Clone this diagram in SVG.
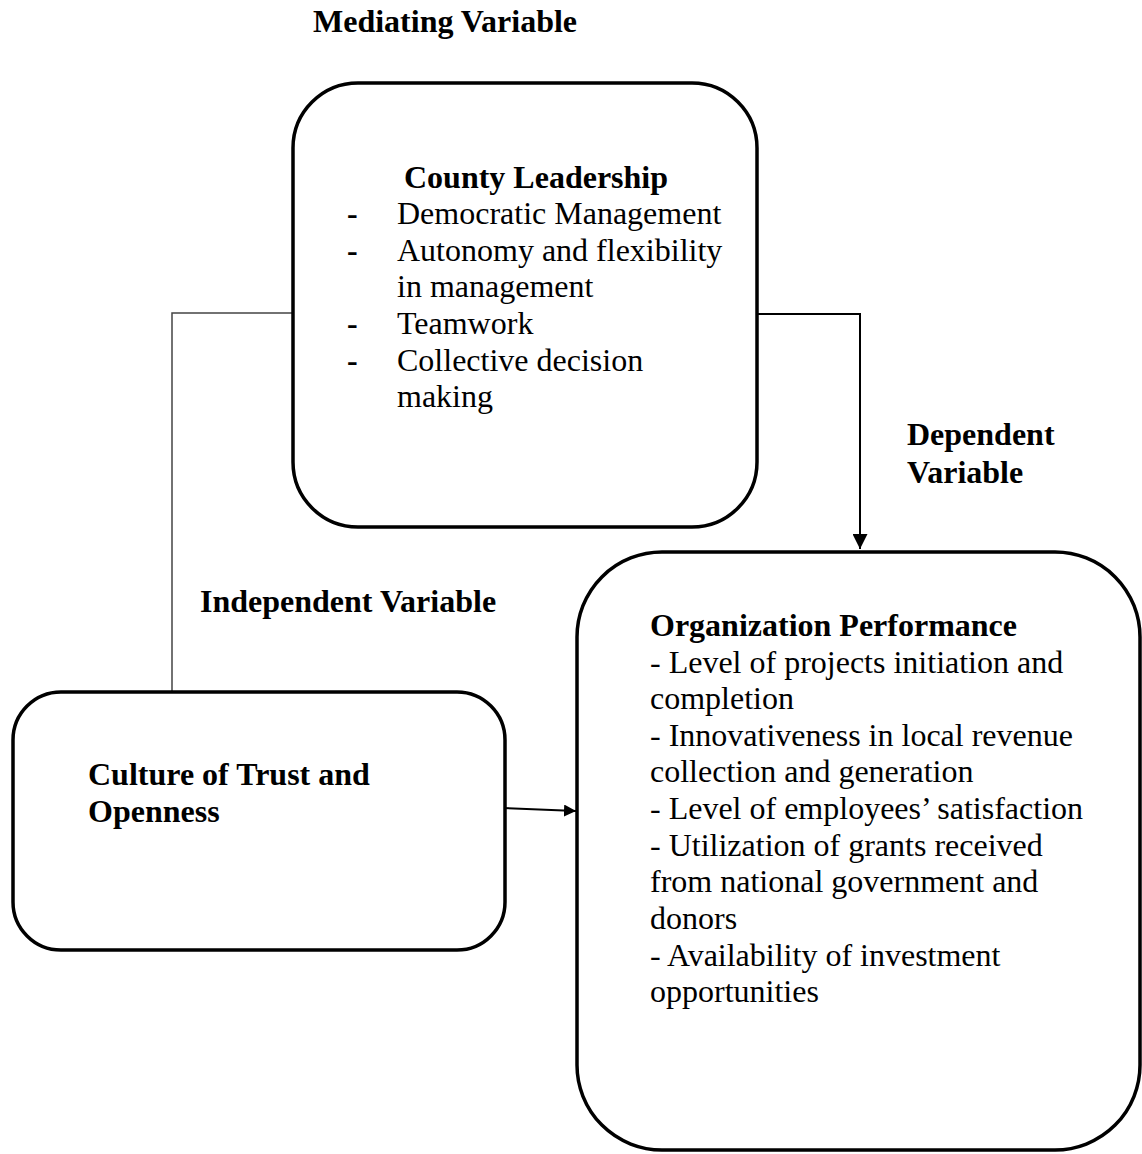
<svg xmlns="http://www.w3.org/2000/svg" width="1142" height="1154" viewBox="0 0 1142 1154">
  <style>
    .box { fill: #ffffff; stroke: #000000; stroke-width: 3.5; }
    .t { font-family: "Liberation Serif", "Times New Roman", serif; font-size: 32px; fill: #000000; }
    .b { font-weight: bold; }
    .wire { fill: none; stroke: #000000; stroke-width: 2; }
    .thin { fill: none; stroke: #444444; stroke-width: 1.5; }
  </style>
  <defs>
    <marker id="arrow" viewBox="0 0 10 10" refX="10" refY="5" markerWidth="7.5" markerHeight="7.5" markerUnits="strokeWidth" orient="auto">
      <path d="M0,0 L10,5 L0,10 Z" fill="#000000"/>
    </marker>
    <marker id="arrow-s" viewBox="0 0 10 10" refX="10" refY="5" markerWidth="6" markerHeight="6" markerUnits="strokeWidth" orient="auto">
      <path d="M0,0 L10,5 L0,10 Z" fill="#000000"/>
    </marker>
  </defs>
  <rect width="1142" height="1154" fill="#ffffff"/>

  <!-- connectors -->
  <g id="connectors">
    <polyline class="thin" points="293,313 172,313 172,691"/>
    <polyline class="wire" points="757,314 860,314 860,549" marker-end="url(#arrow)"/>
    <line class="wire" x1="501" y1="808" x2="576" y2="811" stroke-width="2.5" marker-end="url(#arrow-s)"/>
  </g>

  <!-- free labels -->
  <g id="labels">
    <text class="t b" x="313" y="32">Mediating Variable</text>
    <text class="t b" x="200" y="612">Independent Variable</text>
    <text class="t b" x="907" y="445">Dependent</text>
    <text class="t b" x="907" y="483">Variable</text>
  </g>

  <!-- mediating variable -->
  <g id="county-leadership">
    <rect class="box" x="293" y="83" width="464" height="444" rx="65" ry="65"/>
    <text class="t b" x="404" y="188">County Leadership</text>
    <text class="t b" x="347" y="224">-</text>
    <text class="t" x="397" y="224">Democratic Management</text>
    <text class="t b" x="347" y="261">-</text>
    <text class="t" x="397" y="261">Autonomy and flexibility</text>
    <text class="t" x="397" y="297">in management</text>
    <text class="t b" x="347" y="334">-</text>
    <text class="t" x="397" y="334">Teamwork</text>
    <text class="t b" x="347" y="371">-</text>
    <text class="t" x="397" y="371">Collective decision</text>
    <text class="t" x="397" y="407">making</text>
  </g>

  <!-- independent variable -->
  <g id="culture-of-trust">
    <rect class="box" x="13" y="692" width="492" height="258" rx="48" ry="48"/>
    <text class="t b" x="88" y="785">Culture of Trust and</text>
    <text class="t b" x="88" y="822">Openness</text>
  </g>

  <!-- dependent variable -->
  <g id="organization-performance">
    <rect class="box" x="577" y="552" width="563" height="598" rx="85" ry="85"/>
    <text class="t b" x="650" y="636">Organization Performance</text>
    <text class="t" x="650" y="673">- Level of projects initiation and</text>
    <text class="t" x="650" y="709">completion</text>
    <text class="t" x="650" y="746">- Innovativeness in local revenue</text>
    <text class="t" x="650" y="782">collection and generation</text>
    <text class="t" x="650" y="819">- Level of employees’ satisfaction</text>
    <text class="t" x="650" y="856">- Utilization of grants received</text>
    <text class="t" x="650" y="892">from national government and</text>
    <text class="t" x="650" y="929">donors</text>
    <text class="t" x="650" y="966">- Availability of investment</text>
    <text class="t" x="650" y="1002">opportunities</text>
  </g>
</svg>
